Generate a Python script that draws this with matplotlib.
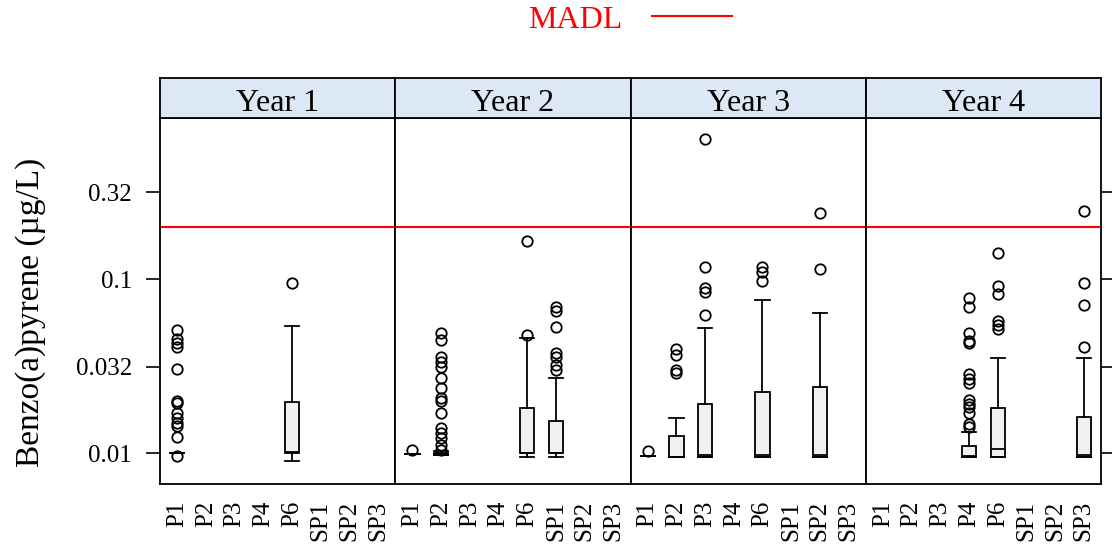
import numpy as np
import matplotlib.pyplot as plt
from matplotlib.lines import Line2D
from matplotlib.ticker import NullLocator

plt.rcParams['font.family'] = ['Liberation Serif', 'DejaVu Serif']

# ------------------------------------------------------------
# data: box = (site, whislo, q1, med, q3, whishi)
# ------------------------------------------------------------
sites = ['P1', 'P2', 'P3', 'P4', 'P6', 'SP1', 'SP2', 'SP3']
years = ['Year 1', 'Year 2', 'Year 3', 'Year 4']
madl = 0.2

ytick_vals = [0.01, 0.0316, 0.1, 0.316]
ytick_labels = ['0.01', '0.032', '0.1', '0.32']

box_y1 = [('P1', 0.01, 0.01, 0.01, 0.01, 0.01),
          ('P6', 0.009, 0.01, 0.0102, 0.0197, 0.054)]
out_y1 = {'P1': [0.0513, 0.0453, 0.043, 0.0411, 0.0306, 0.020, 0.0195, 0.017,
                 0.0159, 0.015, 0.0144, 0.0125, 0.0097],
          'P6': [0.096]}

box_y2 = [('P1', 0.0099, 0.0099, 0.0099, 0.0099, 0.0099),
          ('P2', 0.0098, 0.0098, 0.0099, 0.0101, 0.0103),
          ('P6', 0.0095, 0.01, 0.01, 0.0182, 0.0459),
          ('SP1', 0.0095, 0.01, 0.01, 0.0153, 0.027)]
out_y2 = {'P1': [0.0105],
          'P2': [0.0491, 0.0449, 0.036, 0.0337, 0.0316, 0.027, 0.0237, 0.0208,
                 0.0199, 0.017, 0.014, 0.0131, 0.0122, 0.0112, 0.0105],
          'P6': [0.166, 0.048],
          'SP1': [0.0698, 0.0662, 0.0536, 0.0377, 0.036, 0.0323, 0.0302]}

box_y3 = [('P1', 0.0097, 0.0097, 0.0097, 0.0097, 0.0097),
          ('P2', 0.0096, 0.0096, 0.0096, 0.0126, 0.0159),
          ('P3', 0.0096, 0.0096, 0.0098, 0.0192, 0.0525),
          ('P6', 0.0096, 0.0096, 0.0098, 0.0225, 0.0762),
          ('SP2', 0.0096, 0.0096, 0.0098, 0.0242, 0.0645)]
out_y3 = {'P1': [0.0103],
          'P2': [0.0397, 0.0368, 0.0302, 0.0289],
          'P3': [0.64, 0.1186, 0.0889, 0.0851, 0.0625],
          'P6': [0.1175, 0.111, 0.0985],
          'SP2': [0.24, 0.1145]}

box_y4 = [('P4', 0.0096, 0.0096, 0.0097, 0.011, 0.0133),
          ('P6', 0.0096, 0.0096, 0.0106, 0.0182, 0.0352),
          ('SP3', 0.0096, 0.0096, 0.0098, 0.0163, 0.0352)]
out_y4 = {'P4': [0.078, 0.0692, 0.0494, 0.0445, 0.0433, 0.0286, 0.0267, 0.0253,
                 0.0203, 0.0192, 0.0184, 0.0171, 0.0148, 0.0142],
          'P6': [0.1415, 0.0918, 0.0826, 0.058, 0.0548, 0.0518],
          'SP3': [0.248, 0.096, 0.0713, 0.0411]}

boxes = [box_y1, box_y2, box_y3, box_y4]
outs = [out_y1, out_y2, out_y3, out_y4]

# ------------------------------------------------------------
# layout (pixels)
# ------------------------------------------------------------
W, H = 1112, 545
x0, x1 = 160, 1101
top, bottom, strip_top = 118.3, 484.3, 78.3
pw = (x1 - x0) / 4

fig = plt.figure(figsize=(W / 100, H / 100), dpi=100)

for k, year in enumerate(years):
    ax = fig.add_axes([(x0 + k * pw) / W, 1 - bottom / H, pw / W, (bottom - top) / H])
    sax = fig.add_axes([(x0 + k * pw) / W, 1 - top / H, pw / W, (top - strip_top) / H])

    stats, pos = [], []
    for site, lo, q1, med, q3, hi in boxes[k]:
        stats.append(dict(whislo=lo, q1=q1, med=med, q3=q3, whishi=hi,
                          fliers=np.array(outs[k].get(site, []))))
        pos.append(sites.index(site) + 1)

    ax.set_yscale('log')
    lw = 1.3
    ax.bxp(stats, positions=pos, widths=0.5, capwidths=0.5, patch_artist=True,
           boxprops=dict(facecolor='#f0f0f0', edgecolor='black', linewidth=lw),
           medianprops=dict(color='black', linewidth=lw),
           whiskerprops=dict(color='black', linewidth=lw),
           capprops=dict(color='black', linewidth=lw),
           flierprops=dict(marker='o', markerfacecolor='none', markeredgecolor='black',
                           markersize=7.5, markeredgewidth=1.3, linestyle='none'),
           manage_ticks=False)
    ax.axhline(madl, color='red', lw=1.5, zorder=1)

    ax.set_xlim(0.4, 8.6)
    ax.set_ylim(10 ** -2.177, 10 ** -0.074)
    ax.set_xticks(range(1, 9), sites, rotation=90)
    ax.tick_params(axis='x', length=0, pad=12, labelsize=18)
    ax.set_yticks(ytick_vals, ytick_labels)
    ax.yaxis.set_minor_locator(NullLocator())
    ax.tick_params(axis='y', length=10, width=1.2, direction='out', labelsize=18, pad=10,
                   left=(k == 0), labelleft=(k == 0), right=(k == 3), labelright=False)
    for s in ax.spines.values():
        s.set_linewidth(1.3)

    sax.set_facecolor('#dce8f5')
    sax.set_xticks([]); sax.set_yticks([])
    for s in sax.spines.values():
        s.set_linewidth(1.3)
    sax.text(0.5, 0.36, year, ha='center', va='center', fontsize=23, transform=sax.transAxes)

fig.text(31 / W, 1 - 312 / H, 'Benzo(a)pyrene (\u00b5g/L)', rotation=90,
         ha='center', va='center', fontsize=24)

fig.text(575 / W, 1 - 21 / H, 'MADL', color='red', ha='center', va='center', fontsize=23)
fig.add_artist(Line2D([652 / W, 732 / W], [1 - 15.5 / H] * 2, color='red', lw=1.5,
                      transform=fig.transFigure))

plt.savefig('out.png', dpi=100)
